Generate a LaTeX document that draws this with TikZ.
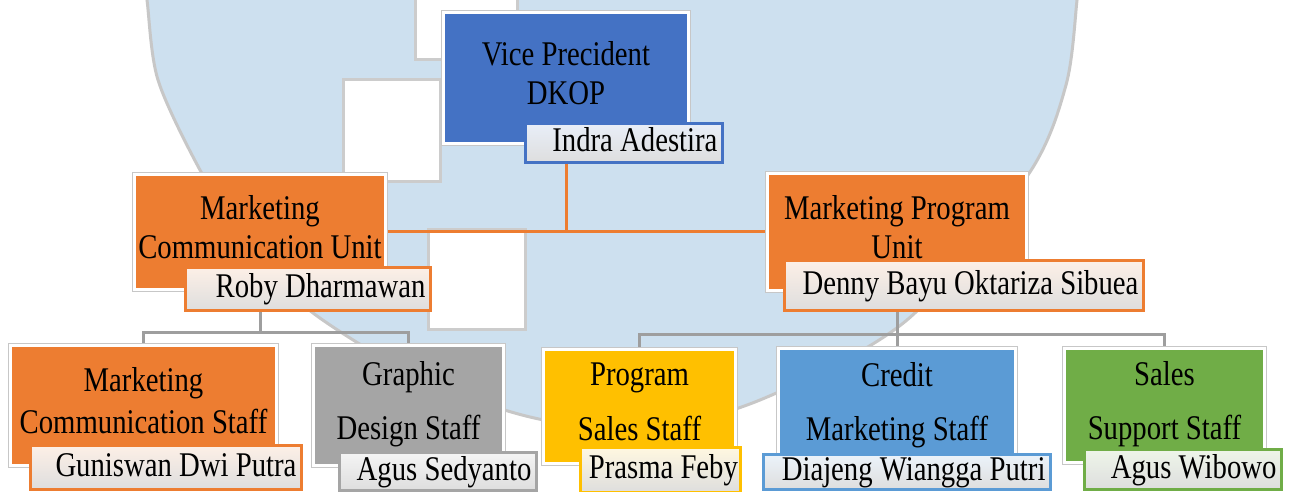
\documentclass[tikz,border=0pt]{standalone}
\usepackage{fontspec}
\setmainfont{Liberation Serif}[FakeStretch=0.83]
\usepackage{tikz}
\usetikzlibrary{calc}
\usepackage{xcolor}
\definecolor{vpblue}{HTML}{4472C4}
\definecolor{unitorange}{HTML}{ED7D31}
\definecolor{staffgray}{HTML}{A5A5A5}
\definecolor{staffgold}{HTML}{FFC000}
\definecolor{staffblue}{HTML}{5B9BD5}
\definecolor{staffgreen}{HTML}{70AD47}
\definecolor{wmblue}{HTML}{CDE0EF}
\newcommand{\boxfont}{\fontsize{19.7pt}{22.5pt}\selectfont}
\pgfdeclarelayer{watermark}
\pgfdeclarelayer{links}
\pgfsetlayers{watermark,links,main}
\tikzset{
    unitbox/.style={rectangle, fill=#1, draw=white, line width=0.06cm,
        preaction={draw=black!22, line width=0.1cm},
        inner sep=0pt, align=center, font=\boxfont, text depth=0.2cm},
    namebox/.style={rectangle, draw=#1, line width=0.06cm,
        top color=white!88!#1, bottom color=black!13,
        inner xsep=0.1cm, inner ysep=0pt, align=flush right, font=\boxfont,
        text height=0.49cm, text depth=0.14cm},
    unitlink/.style={draw=unitorange, line width=0.06cm},
    stafflink/.style={draw=black!38, line width=0.06cm},
    logopart/.style={fill=white, draw=black!20, line width=0.06cm},
}

\begin{document}
\begin{tikzpicture}[x=0.02cm, y=-0.02cm]
    \useasboundingbox (0,0) rectangle (1290,492);

    % watermark behind the chart
    \begin{pgfonlayer}{watermark}
        \fill[white] (0,0) rectangle (1290,492);
        \draw[fill=wmblue, draw=black!22, line width=0.06cm] plot[smooth] coordinates {
            (142,-40) (147,0) (158,80) (200,170) (250,250) (313,313) (420,378) (530,417)
            (640,430) (760,400) (907,320) (1028,175) (1066,85) (1077,0) (1080,-40)} -- cycle;
        \draw[logopart] (415,-10) rectangle (517,60);
        \draw[logopart] (343,80) rectangle (440,182);
        \draw[logopart] (428,230) rectangle (525,330);
    \end{pgfonlayer}

    % top
    \draw (566,78) node[unitbox=vpblue, minimum width=4.92cm, minimum height=2.64cm] (vp) {Vice Precident\\DKOP};
    \draw (624,143) node[namebox=vpblue, minimum height=0.78cm, text width=3.74cm] (vpname) {Indra Adestira};

    % units
    \draw (260,232) node[unitbox=unitorange, minimum width=5.02cm, minimum height=2.3cm] (mcu) {Marketing\\Communication Unit};
    \draw (308,289) node[namebox=unitorange, minimum height=0.86cm, text width=4.7cm] (mcuname) {Roby Dharmawan};
    \draw (897,232) node[unitbox=unitorange, minimum width=5.2cm, minimum height=2.36cm] (mpu) {Marketing Program\\Unit};
    \draw (964,285.5) node[namebox=unitorange, minimum height=1.0cm, text width=6.98cm] (mpuname) {Denny Bayu Oktariza Sibuea};

    % staff
    \draw (143.5,405.5) node[unitbox=unitorange, minimum width=5.32cm, minimum height=2.4cm] (mcs) {Marketing\\[0.06cm]Communication Staff};
    \draw (166,467.5) node[namebox=unitorange, minimum height=0.88cm, text width=5.22cm] (mcsname) {Guniswan Dwi Putra};
    \draw (408.5,405.5) node[unitbox=staffgray, minimum width=3.8cm, minimum height=2.4cm] (gds) {Graphic\\[0.3cm]Design Staff};
    \draw (438,471.5) node[namebox=staffgray, minimum height=0.76cm, text width=3.74cm] (gdsname) {Agus Sedyanto};
    \draw (639.5,406.5) node[unitbox=staffgold, minimum width=3.84cm, minimum height=2.28cm] (pss) {Program\\[0.3cm]Sales Staff};
    \draw (660.5,470) node[namebox=staffgold, minimum height=0.9cm, inner xsep=0.05cm, text width=3.1cm] (pssname) {Prasma Feby};
    \draw (897,406.5) node[unitbox=staffblue, minimum width=4.74cm, minimum height=2.32cm] (cms) {Credit\\[0.3cm]Marketing Staff};
    \draw (907,472) node[namebox=staffblue, minimum height=0.7cm, text width=5.54cm] (cmsname) {Diajeng Wiangga Putri};
    \draw (1164.5,405.5) node[unitbox=staffgreen, minimum width=4.0cm, minimum height=2.28cm] (sss) {Sales\\[0.3cm]Support Staff};
    \draw (1183,469.5) node[namebox=staffgreen, minimum height=0.8cm, text width=3.74cm] (sssname) {Agus Wibowo};

    % connectors
    \begin{pgfonlayer}{links}
        \draw[unitlink] (vp.south) -- (vp.south |- mcu.east);
        \draw[unitlink] (mcu.east) -- (mpu.west);
        \coordinate (mcujoint) at (260,333);
        \draw[stafflink] (mcu.south) -- (mcujoint);
        \draw[stafflink] (mcs.north) |- (mcujoint) -| (gds.north);
        \coordinate (mpujoint) at (897,335);
        \draw[stafflink] (mpu.south) -- (mpujoint);
        \draw[stafflink] (pss.north) |- (mpujoint) -| (sss.north);
        \draw[stafflink] (mpujoint) -- (cms.north);
    \end{pgfonlayer}
\end{tikzpicture}
\end{document}
